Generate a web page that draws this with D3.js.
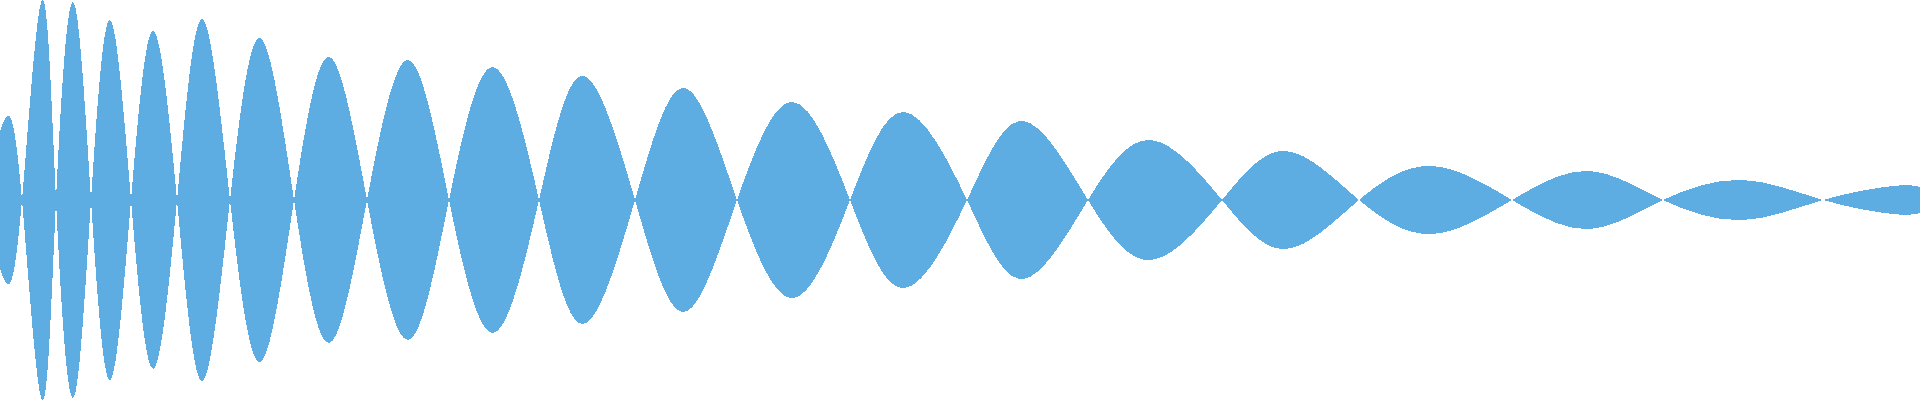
<!DOCTYPE html>
<html>
<head>
<meta charset="utf-8">
<script src="https://cdn.jsdelivr.net/npm/d3@7/dist/d3.min.js"></script>
<style>
  html, body { margin: 0; padding: 0; background: #ffffff; overflow: hidden; }
  svg { display: block; }
</style>
</head>
<body>
<svg id="chart"></svg>
<script>
// Signal (time in samples, signal normalised to [-1, 1])
const zeroTimes = [22, 56, 91, 131, 177, 230, 294, 367, 449, 539, 635, 737, 850, 967, 1088, 1222, 1359, 1512, 1663, 1823];
const peakTimes = [9, 42, 73, 110, 153, 202, 260, 329, 408, 493, 583, 684, 793, 904, 1023, 1151, 1286, 1432, 1588, 1743, 1893];
const peakValues = [0.42, -1.0, 0.99, -0.90, 0.845, -0.905, 0.81, -0.715, 0.70, -0.665, 0.62, -0.56, 0.49, -0.44, 0.395, -0.30, 0.245, -0.17, 0.145, -0.10, 0.07];
const edgeTimes = [0, 1920];
const edgeValues = [0.34, 0.065];

const width = 1920, height = 400;
const fill = "#5dade2";

const points = []
  .concat(zeroTimes.map(t => ({ t, v: 0 })))
  .concat(peakTimes.map((t, i) => ({ t, v: peakValues[i] })))
  .concat(edgeTimes.map((t, i) => ({ t, v: edgeValues[i] })))
  .sort((a, b) => a.t - b.t);

const x = d3.scaleLinear().domain([0, 1920]).range([0, width]);
const y = d3.scaleLinear().domain([-1, 1]).range([height, 0]);

const svg = d3.select("#chart")
  .attr("width", width)
  .attr("height", height)
  .attr("viewBox", `0 0 ${width} ${height}`);

const area = d3.area()
  .x(d => x(d.t))
  .y0(d => y(-d.v))
  .y1(d => y(d.v))
  .curve(d3.curveNatural);

svg.append("path")
  .datum(points)
  .attr("d", area)
  .attr("fill", fill)
  .attr("stroke", "none")
  .attr("shape-rendering", "crispEdges");
</script>
</body>
</html>
